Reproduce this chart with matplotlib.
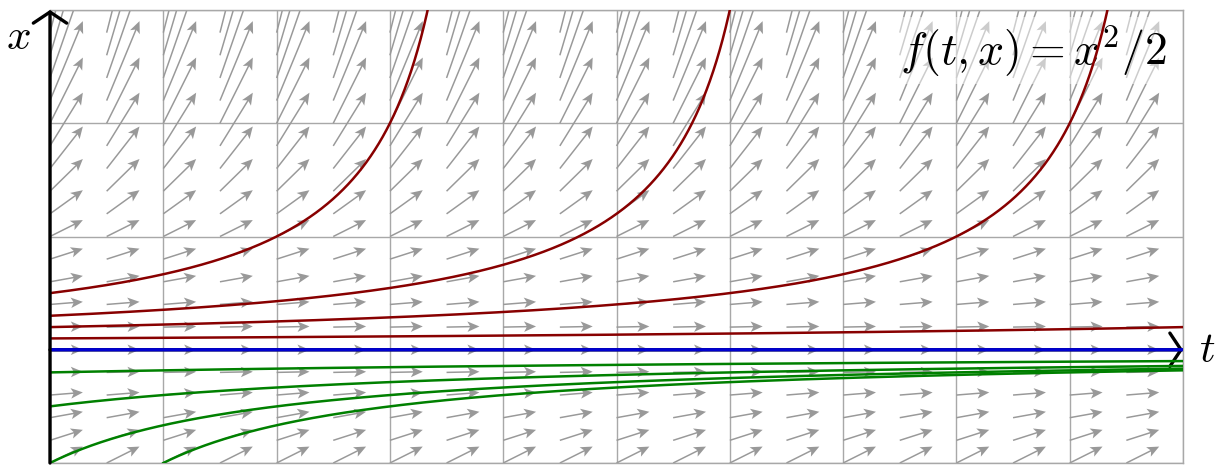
import numpy as np
import matplotlib
matplotlib.use("Agg")
import matplotlib.pyplot as plt
from matplotlib.patches import FancyArrowPatch, ArrowStyle

plt.rcParams['mathtext.fontset'] = 'cm'

# ---- data ----
t_range = [0, 10]
x_range = [-1, 3]
field_t = np.arange(0, 10, 0.5)          # slope-field sample times
field_x = np.arange(-1, 3.001, 0.2)      # slope-field sample states
arrow_dt = 0.29
red_x0 = [0.5, 0.3, 0.2, 0.1]            # blow-up solutions starting at t=0
blue_x0 = [0.0]                          # equilibrium
green_starts_t = [0, 0, 0, 1]
green_starts_x = [-0.2, -0.5, -1.0, -1.0]
title = r'$f(t,x) = x^2/2$'

def f(t, x):
    return x ** 2 / 2

def solution(t0, x0, t):
    # exact solution of x' = x^2/2 through (t0, x0)
    if x0 == 0:
        return np.zeros_like(t)
    return 1.0 / (1.0 / x0 - (t - t0) / 2.0)

fig = plt.figure(figsize=(12.18, 4.66), dpi=100)
ax = fig.add_axes([50 / 1218, 3 / 466, 1133 / 1218, 453 / 466])
ax.set_xlim(*t_range)
ax.set_ylim(*x_range)

grid_c = '#a8a8a8'
ax.set_xticks(np.arange(t_range[0], t_range[1] + 1))
ax.set_yticks(np.arange(x_range[0], x_range[1] + 1))
ax.tick_params(length=0, labelbottom=False, labelleft=False)
ax.grid(True, color=grid_c, lw=1.0, zorder=0)
ax.set_axisbelow(True)
for s in ax.spines.values():
    s.set_color(grid_c)
    s.set_linewidth(1.0)

# slope field
T, X = np.meshgrid(field_t, field_x)
U = np.full_like(T, arrow_dt)
V = arrow_dt * f(T, X)
ax.quiver(T, X, U, V, angles='xy', scale_units='xy', scale=1, pivot='tail',
          color='#999999', units='dots', width=1.5, headwidth=7.0,
          headlength=8.0, headaxislength=6.3, zorder=1)

# title box
ax.text(8.68, 2.64, title, fontsize=33, ha='center', va='center', zorder=2,
        bbox=dict(boxstyle='square,pad=0.12', fc='white', ec='none', alpha=0.5))

# axes arrows
style = ArrowStyle('->', head_length=0.4, head_width=0.6)
ax.add_patch(FancyArrowPatch((0, -1), (0, 3.0), arrowstyle=style, mutation_scale=20,
                             lw=2.4, color='black', clip_on=False, zorder=5,
                             shrinkA=0, shrinkB=0))
ax.add_patch(FancyArrowPatch((0, 0), (10, 0), arrowstyle=style, mutation_scale=20,
                             lw=2.4, color='black', clip_on=False, zorder=3,
                             shrinkA=0, shrinkB=0))

# solution curves
tt = np.linspace(0, 10, 2000)
for x0 in red_x0:
    tb = 2.0 / x0
    ts = np.linspace(0, min(10, tb - 2.0 / 3.6), 2000)
    ax.plot(ts, solution(0, x0, ts), color='#880000', lw=1.8, zorder=3)
for x0 in blue_x0:
    ax.plot(tt, solution(0, x0, tt), color='#0000d0', lw=2.4, zorder=4)
for t0, x0 in zip(green_starts_t, green_starts_x):
    ts = np.linspace(t0, 10, 2000)
    ax.plot(ts, solution(t0, x0, ts), color='#008000', lw=1.8, zorder=3)

fig.text(18 / 1218, 1 - 37 / 466, '$x$', fontsize=31, ha='center', va='center')
fig.text(1207 / 1218, 1 - 350 / 466, '$t$', fontsize=31, ha='center', va='center')

fig.savefig('out.png', dpi=100)
